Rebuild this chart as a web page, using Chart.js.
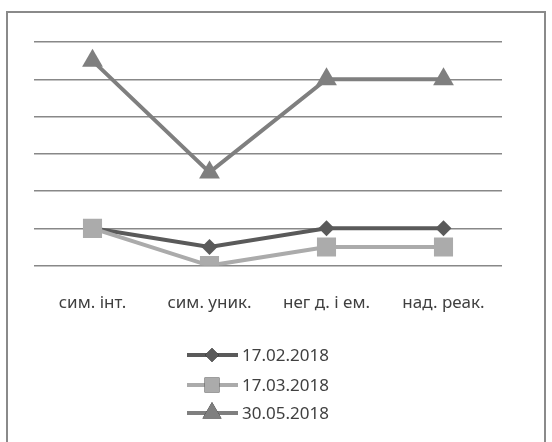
<!DOCTYPE html>
<html>
<head>
<meta charset="utf-8">
<script src="https://cdn.jsdelivr.net/npm/chart.js@4/dist/chart.umd.min.js"></script>
<style>
  html, body { margin: 0; padding: 0; background: #fff; }
  #wrap { position: relative; width: 552px; height: 442px; overflow: hidden; }
  #frame { position: absolute; left: 6px; top: 11px; width: 540px; height: 460px; border: 2px solid #8a8a8a; box-sizing: border-box; }
  canvas { position: absolute; left: 0; top: 0; }
</style>
</head>
<body>
<div id="wrap">
  <div id="frame"></div>
  <canvas id="grafico" width="552" height="442"></canvas>
</div>
<script>
// Categorias e séries
const categorias = ['сим. інт.', 'сим. уник.', 'нег д. і ем.', 'над. реак.'];
const serie1702 = [1, 0.5, 1, 1];
const serie1703 = [1, 0, 0.5, 0.5];
const serie3005 = [5.5, 2.5, 5, 5];
const rotulosLegenda = ['17.02.2018', '17.03.2018', '30.05.2018'];

const fonte = '"Noto Sans", "DejaVu Sans", sans-serif';

// legenda vertical desenhada à mão (linha + marcador)
const legendaVertical = {
    id: 'legendaVertical',
    afterDraw(chart) {
        const c = chart.ctx;
        const ys = [355, 385, 413];
        chart.data.datasets.forEach((ds, i) => {
            const y = ys[i];
            c.save();
            c.strokeStyle = ds.borderColor;
            c.lineWidth = 4;
            c.beginPath();
            c.moveTo(187, y);
            c.lineTo(238, y);
            c.stroke();
            Chart.helpers.drawPoint(c, {
                pointStyle: ds.pointStyle,
                radius: ds.legendRadius,
                borderWidth: 0
            }, 212, y);
            c.fillStyle = ds.backgroundColor;
            c.fill();
            c.fillStyle = '#404040';
            c.font = '17px ' + fonte;
            c.textBaseline = 'middle';
            c.fillText(ds.label, 242, y + 1);
            c.restore();
        });
    }
};

const ctx = document.getElementById('grafico').getContext('2d');
const grafico = new Chart(ctx, {
    type: 'line',
    data: {
        labels: categorias,
        datasets: [{
            label: rotulosLegenda[0],
            data: serie1702,
            order: 3,
            borderColor: '#5a5a5a',
            backgroundColor: '#5a5a5a',
            borderWidth: 4,
            pointStyle: 'rectRot',
            pointRadius: 8,
            legendRadius: 7,
            pointBorderWidth: 0
        }, {
            label: rotulosLegenda[1],
            data: serie1703,
            order: 2,
            borderColor: '#ababab',
            backgroundColor: '#ababab',
            borderWidth: 4,
            pointStyle: 'rect',
            pointRadius: 13.5,
            legendRadius: 10.5,
            pointBorderWidth: 0
        }, {
            label: rotulosLegenda[2],
            data: serie3005,
            order: 1,
            borderColor: '#7f7f7f',
            backgroundColor: '#7f7f7f',
            borderWidth: 4,
            pointStyle: 'triangle',
            pointRadius: 12,
            legendRadius: 11,
            pointBorderWidth: 0
        }]
    },
    options: {
        responsive: false,
        animation: false,
        layout: { padding: { left: 34, right: 50, top: 42, bottom: 110 } },
        plugins: { legend: { display: false }, tooltip: { enabled: false } },
        scales: {
            y: {
                min: 0, max: 6,
                ticks: { display: false, stepSize: 1 },
                grid: { color: '#888888', lineWidth: 1.5, drawTicks: false },
                border: { display: false }
            },
            x: {
                offset: true,
                grid: { display: false },
                border: { display: false },
                ticks: { color: '#404040', font: { size: 17, family: fonte }, padding: 19, maxRotation: 0, autoSkip: false }
            }
        }
    },
    plugins: [legendaVertical]
});
</script>
</body>
</html>
